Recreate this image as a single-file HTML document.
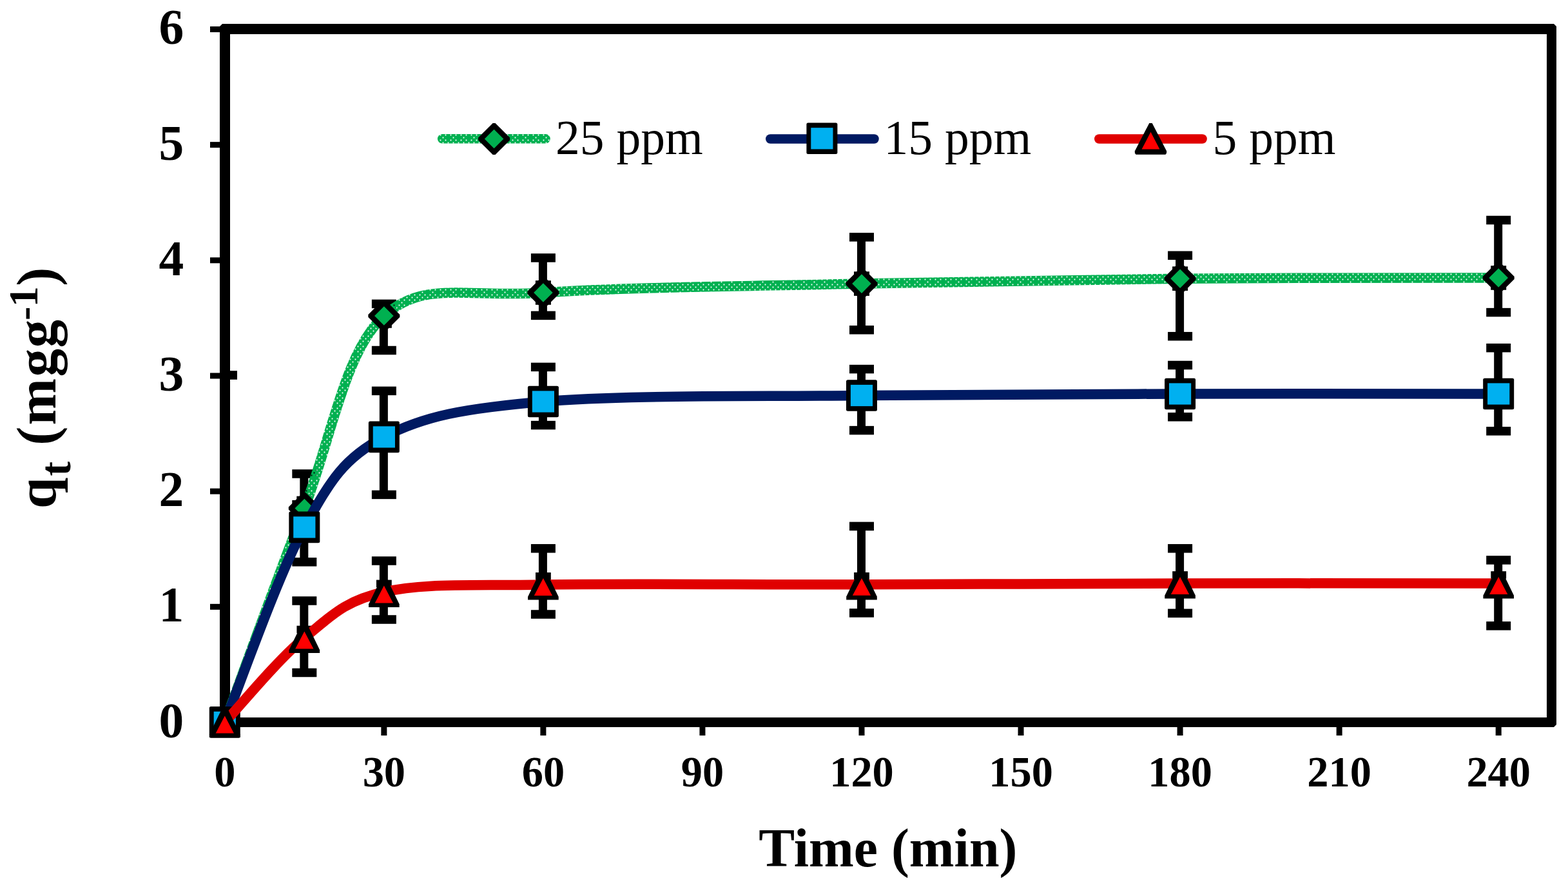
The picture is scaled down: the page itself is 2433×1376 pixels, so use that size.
<!DOCTYPE html>
<html><head><meta charset="utf-8"><title>Adsorption kinetics</title>
<style>html,body{margin:0;padding:0;background:#fff;overflow:hidden}svg{display:block}
text{font-family:"Liberation Serif","Times New Roman",serif}</style></head>
<body>
<svg width="2433" height="1376" viewBox="0 0 2433 1376">
<defs>
<pattern id="dots" patternUnits="userSpaceOnUse" x="5" y="3" width="16" height="16">
<path fill="#00B050" fill-rule="evenodd" d="M0,0H16V16H0Z M13.6,13.6h1.8v1.8h-1.8Z M5.6,13.6h1.8v1.8h-1.8Z M9.6,1.6h1.8v1.8h-1.8Z M13.6,5.6h1.8v1.8h-1.8Z M5.6,5.6h1.8v1.8h-1.8Z M1.6,9.6h1.8v1.8h-1.8Z M9.6,9.6h1.8v1.8h-1.8Z"/>
</pattern>
</defs>
<rect width="2433" height="1376" fill="#fff"/>

<g font-weight="bold" font-size="77.5" text-anchor="end">
<text x="285.3" y="1143.5">0</text>
<text x="285.3" y="964.33">1</text>
<text x="285.3" y="785.16">2</text>
<text x="285.3" y="605.99">3</text>
<text x="285.3" y="426.82">4</text>
<text x="285.3" y="247.65">5</text>
<text x="285.3" y="68.48">6</text>
</g>
<g font-weight="bold" font-size="68.5" text-anchor="middle">
<text transform="translate(348.8,1219.8) scale(0.97,1)">0</text>
<text transform="translate(595.85,1219.8) scale(0.97,1)">30</text>
<text transform="translate(842.9,1219.8) scale(0.97,1)">60</text>
<text transform="translate(1089.95,1219.8) scale(0.97,1)">90</text>
<text transform="translate(1337,1219.8) scale(0.97,1)">120</text>
<text transform="translate(1584.05,1219.8) scale(0.97,1)">150</text>
<text transform="translate(1831.1,1219.8) scale(0.97,1)">180</text>
<text transform="translate(2078.15,1219.8) scale(0.97,1)">210</text>
<text transform="translate(2325.2,1219.8) scale(0.97,1)">240</text>
</g>
<g fill="#000">
<rect x="326" y="1116" width="23" height="9"/>
<rect x="326" y="936.83" width="23" height="9"/>
<rect x="326" y="757.66" width="23" height="9"/>
<rect x="326" y="578.49" width="23" height="9"/>
<rect x="326" y="399.32" width="23" height="9"/>
<rect x="326" y="220.15" width="23" height="9"/>
<rect x="326" y="40.98" width="23" height="9"/>
<rect x="344.3" y="1120" width="9" height="21"/>
<rect x="591.35" y="1120" width="9" height="21"/>
<rect x="838.4" y="1120" width="9" height="21"/>
<rect x="1085.45" y="1120" width="9" height="21"/>
<rect x="1332.5" y="1120" width="9" height="21"/>
<rect x="1579.55" y="1120" width="9" height="21"/>
<rect x="1826.6" y="1120" width="9" height="21"/>
<rect x="2073.65" y="1120" width="9" height="21"/>
<rect x="2320.7" y="1120" width="9" height="21"/>
</g>
<rect x="356" y="575.2" width="12" height="13.6"/>
<path fill="#000" fill-rule="evenodd" d="M345,37H2411L2415,41V1124L2411,1128H345L341,1124V41Z M357,53V1113H2400V53Z"/>
<g fill="#000"><rect x="465.32" y="735" width="13" height="47.7"/><rect x="453.32" y="728.25" width="38" height="13.5"/><rect x="453.32" y="775.95" width="38" height="13.5"/><rect x="460.32" y="769.7" width="24" height="37.6"/><rect x="588.85" y="471.4" width="13" height="72.1"/><rect x="576.85" y="464.65" width="38" height="13.5"/><rect x="576.85" y="536.75" width="38" height="13.5"/><rect x="583.85" y="471.2" width="24" height="37.6"/><rect x="835.9" y="400" width="13" height="89.4"/><rect x="823.9" y="393.25" width="38" height="13.5"/><rect x="823.9" y="482.65" width="38" height="13.5"/><rect x="830.9" y="435.2" width="24" height="37.6"/><rect x="1330" y="367.9" width="13" height="143.9"/><rect x="1318" y="361.15" width="38" height="13.5"/><rect x="1318" y="505.05" width="38" height="13.5"/><rect x="1325" y="421.3" width="24" height="37.6"/><rect x="1824.1" y="396.3" width="13" height="125.4"/><rect x="1812.1" y="389.55" width="38" height="13.5"/><rect x="1812.1" y="514.95" width="38" height="13.5"/><rect x="1819.1" y="413.4" width="24" height="37.6"/><rect x="2318.2" y="341.5" width="13" height="143.1"/><rect x="2306.2" y="334.75" width="38" height="13.5"/><rect x="2306.2" y="477.85" width="38" height="13.5"/><rect x="2313.2" y="412.2" width="24" height="37.6"/></g>
<path d="M348.8,1120.4 C369.39,1065.08 431.15,893.57 472.32,788.5 C513.5,683.43 534.09,545.75 595.85,490 C657.61,434.25 719.38,462.32 842.9,454 C966.42,445.68 1172.3,443.73 1337,440.1 C1501.7,436.47 1666.4,433.72 1831.1,432.2 C1995.8,430.68 2242.85,431.2 2325.2,431" fill="none" stroke="url(#dots)" stroke-width="15.5" stroke-linecap="round" stroke-linejoin="round"/>
<g fill="#000"><polygon points="470.43,764 474.22,764 496.82,786.6 496.82,790.4 474.22,813 470.43,813 447.82,790.4 447.82,786.6"/><polygon fill="#00B050" points="472.32,773.7 487.12,788.5 472.32,803.3 457.52,788.5"/><polygon points="593.95,465.5 597.75,465.5 620.35,488.1 620.35,491.9 597.75,514.5 593.95,514.5 571.35,491.9 571.35,488.1"/><polygon fill="#00B050" points="595.85,475.2 610.65,490 595.85,504.8 581.05,490"/><polygon points="841,429.5 844.8,429.5 867.4,452.1 867.4,455.9 844.8,478.5 841,478.5 818.4,455.9 818.4,452.1"/><polygon fill="#00B050" points="842.9,439.2 857.7,454 842.9,468.8 828.1,454"/><polygon points="1335.1,415.6 1338.9,415.6 1361.5,438.2 1361.5,442 1338.9,464.6 1335.1,464.6 1312.5,442 1312.5,438.2"/><polygon fill="#00B050" points="1337,425.3 1351.8,440.1 1337,454.9 1322.2,440.1"/><polygon points="1829.2,407.7 1833,407.7 1855.6,430.3 1855.6,434.1 1833,456.7 1829.2,456.7 1806.6,434.1 1806.6,430.3"/><polygon fill="#00B050" points="1831.1,417.4 1845.9,432.2 1831.1,447 1816.3,432.2"/><polygon points="2323.3,406.5 2327.1,406.5 2349.7,429.1 2349.7,432.9 2327.1,455.5 2323.3,455.5 2300.7,432.9 2300.7,429.1"/><polygon fill="#00B050" points="2325.2,416.2 2340,431 2325.2,445.8 2310.4,431"/></g>
<g fill="#000"><rect x="465.32" y="803" width="13" height="68.8"/><rect x="453.32" y="796.25" width="38" height="13.5"/><rect x="453.32" y="865.05" width="38" height="13.5"/><rect x="588.85" y="606.4" width="13" height="161"/><rect x="576.85" y="599.65" width="38" height="13.5"/><rect x="576.85" y="760.65" width="38" height="13.5"/><rect x="835.9" y="569.4" width="13" height="90.2"/><rect x="823.9" y="562.65" width="38" height="13.5"/><rect x="823.9" y="652.85" width="38" height="13.5"/><rect x="1330" y="572.6" width="13" height="95"/><rect x="1318" y="565.85" width="38" height="13.5"/><rect x="1318" y="660.85" width="38" height="13.5"/><rect x="1824.1" y="566.5" width="13" height="80.3"/><rect x="1812.1" y="559.75" width="38" height="13.5"/><rect x="1812.1" y="640.05" width="38" height="13.5"/><rect x="2318.2" y="539.7" width="13" height="129.1"/><rect x="2306.2" y="532.95" width="38" height="13.5"/><rect x="2306.2" y="662.05" width="38" height="13.5"/></g>
<path d="M348.8,1120.4 C369.39,1069.98 431.15,891.65 472.32,817.9 C513.5,744.15 534.09,710.38 595.85,677.9 C657.61,645.42 719.38,633.73 842.9,623 C966.42,612.27 1172.3,615.5 1337,613.5 C1501.7,611.5 1666.4,611.42 1831.1,611 C1995.8,610.58 2242.85,611 2325.2,611" fill="none" stroke="#001A62" stroke-width="15.5" stroke-linecap="round" stroke-linejoin="round"/>
<g fill="#000"><rect x="324.8" y="1096.1" width="48" height="48.6" rx="2.5"/><rect fill="#00B0F0" x="331.7" y="1103.8" width="34.2" height="33.2"/><rect x="448.32" y="793.6" width="48" height="48.6" rx="2.5"/><rect fill="#00B0F0" x="455.22" y="801.3" width="34.2" height="33.2"/><rect x="571.85" y="653.6" width="48" height="48.6" rx="2.5"/><rect fill="#00B0F0" x="578.75" y="661.3" width="34.2" height="33.2"/><rect x="818.9" y="598.7" width="48" height="48.6" rx="2.5"/><rect fill="#00B0F0" x="825.8" y="606.4" width="34.2" height="33.2"/><rect x="1313" y="589.2" width="48" height="48.6" rx="2.5"/><rect fill="#00B0F0" x="1319.9" y="596.9" width="34.2" height="33.2"/><rect x="1807.1" y="586.7" width="48" height="48.6" rx="2.5"/><rect fill="#00B0F0" x="1814" y="594.4" width="34.2" height="33.2"/><rect x="2301.2" y="586.7" width="48" height="48.6" rx="2.5"/><rect fill="#00B0F0" x="2308.1" y="594.4" width="34.2" height="33.2"/></g>
<g fill="#000"><rect x="465.32" y="932" width="13" height="111.5"/><rect x="453.32" y="925.25" width="38" height="13.5"/><rect x="453.32" y="1036.75" width="38" height="13.5"/><rect x="460.43" y="970.7" width="23.8" height="11.5"/><rect x="588.85" y="870" width="13" height="91"/><rect x="576.85" y="863.25" width="38" height="13.5"/><rect x="576.85" y="954.25" width="38" height="13.5"/><rect x="583.95" y="899.6" width="23.8" height="11.5"/><rect x="835.9" y="850.8" width="13" height="102.2"/><rect x="823.9" y="844.05" width="38" height="13.5"/><rect x="823.9" y="946.25" width="38" height="13.5"/><rect x="831" y="888.1" width="23.8" height="11.5"/><rect x="1330" y="816.4" width="13" height="134.5"/><rect x="1318" y="809.65" width="38" height="13.5"/><rect x="1318" y="944.15" width="38" height="13.5"/><rect x="1325.1" y="888" width="23.8" height="11.5"/><rect x="1824.1" y="850.8" width="13" height="100.5"/><rect x="1812.1" y="844.05" width="38" height="13.5"/><rect x="1812.1" y="944.55" width="38" height="13.5"/><rect x="1819.2" y="886.2" width="23.8" height="11.5"/><rect x="2318.2" y="868.9" width="13" height="102"/><rect x="2306.2" y="862.15" width="38" height="13.5"/><rect x="2306.2" y="964.15" width="38" height="13.5"/><rect x="2313.3" y="886.2" width="23.8" height="11.5"/></g>
<path d="M348.8,1120.4 C369.39,1098.58 431.15,1023.17 472.32,989.5 C513.5,955.83 534.09,932.17 595.85,918.4 C657.61,904.63 719.38,908.83 842.9,906.9 C966.42,904.97 1172.3,907.12 1337,906.8 C1501.7,906.48 1666.4,905.3 1831.1,905 C1995.8,904.7 2242.85,905 2325.2,905" fill="none" stroke="#E00000" stroke-width="15.5" stroke-linecap="round" stroke-linejoin="round"/>
<g fill="#000"><polygon points="346,1095.9 351.6,1095.9 372.6,1139.2 372.6,1144 325,1144 325,1139.2"/><polygon fill="#FF0000" points="348.8,1110.5 362.9,1137.4 334.7,1137.4"/><polygon points="469.52,965 475.12,965 496.12,1008.3 496.12,1013.1 448.52,1013.1 448.52,1008.3"/><polygon fill="#FF0000" points="472.32,979.6 486.43,1006.5 458.22,1006.5"/><polygon points="593.05,893.9 598.65,893.9 619.65,937.2 619.65,942 572.05,942 572.05,937.2"/><polygon fill="#FF0000" points="595.85,908.5 609.95,935.4 581.75,935.4"/><polygon points="840.1,882.4 845.7,882.4 866.7,925.7 866.7,930.5 819.1,930.5 819.1,925.7"/><polygon fill="#FF0000" points="842.9,897 857,923.9 828.8,923.9"/><polygon points="1334.2,882.3 1339.8,882.3 1360.8,925.6 1360.8,930.4 1313.2,930.4 1313.2,925.6"/><polygon fill="#FF0000" points="1337,896.9 1351.1,923.8 1322.9,923.8"/><polygon points="1828.3,880.5 1833.9,880.5 1854.9,923.8 1854.9,928.6 1807.3,928.6 1807.3,923.8"/><polygon fill="#FF0000" points="1831.1,895.1 1845.2,922 1817,922"/><polygon points="2322.4,880.5 2328,880.5 2349,923.8 2349,928.6 2301.4,928.6 2301.4,923.8"/><polygon fill="#FF0000" points="2325.2,895.1 2339.3,922 2311.1,922"/></g>
<path d="M686.2,215.3 H846.5" stroke="url(#dots)" stroke-width="14.5" stroke-linecap="round"/>
<g fill="#000"><polygon points="764.7,191 768.5,191 791.1,213.6 791.1,217.4 768.5,240 764.7,240 742.1,217.4 742.1,213.6"/><polygon fill="#00B050" points="766.6,200.7 781.4,215.5 766.6,230.3 751.8,215.5"/></g>
<path d="M1195.3,215.5 H1356.5" stroke="#001A62" stroke-width="14.5" stroke-linecap="round"/>
<g fill="#000"><rect x="1251.4" y="190.5" width="48" height="48.6" rx="2.5"/><rect fill="#00B0F0" x="1258.3" y="198.2" width="34.2" height="33.2"/></g>
<path d="M1705.3,215.5 H1865.6" stroke="#E00000" stroke-width="14.5" stroke-linecap="round"/>
<g fill="#000"><polygon points="1783.3,190.9 1787.7,190.9 1810.1,234.3 1810.1,237.3 1808.5,239.7 1762.5,239.7 1760.9,237.3 1760.9,234.3"/><polygon fill="#FF0000" points="1785.5,204.8 1799.4,231.6 1771.6,231.6"/></g>
<g font-size="75.5">
<text x="862" y="238.5">25 ppm</text>
<text x="1371.5" y="238.5">15 ppm</text>
<text x="1881.5" y="238.5">5 ppm</text>
</g>
<text x="1177.3" y="1344" font-weight="bold" font-size="83.8">Time (min)</text>
<text transform="translate(86,788) rotate(-90)" font-weight="bold"><tspan x="-1" y="0" font-size="87">q</tspan><tspan x="49.4" y="22.9" font-size="68">t</tspan><tspan x="97.25" y="0" font-size="87">(</tspan><tspan x="128.45" y="0" font-size="87">m</tspan><tspan x="203.5" y="0" font-size="87">g</tspan><tspan x="248.6" y="0" font-size="87">g</tspan><tspan x="291" y="-28.2" font-size="64">-</tspan><tspan x="311.7" y="-28.2" font-size="64">1</tspan><tspan x="344.25" y="0" font-size="87">)</tspan></text>
</svg>
</body></html>
